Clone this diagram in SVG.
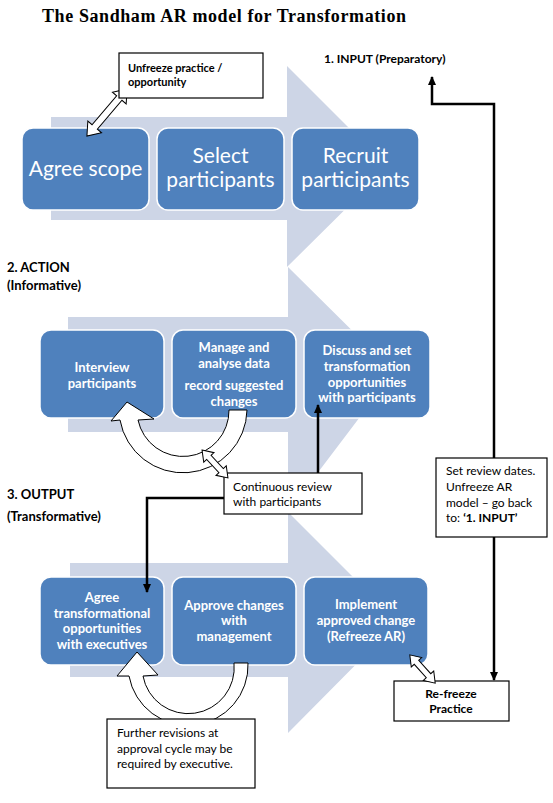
<svg xmlns="http://www.w3.org/2000/svg" width="553" height="803" viewBox="0 0 553 803">
<defs>
<style>
.bg{fill:#ffffff}
.flow{fill:#cdd5e6}
.box{fill:#4f81bd;stroke:#ffffff;stroke-width:1.5}
.t1{font-family:Lato,"Open Sans",sans-serif;font-size:21px;fill:#ffffff;text-anchor:middle}
.t2{font-family:Lato,"Open Sans",sans-serif;font-size:13px;font-weight:bold;fill:#ffffff;text-anchor:middle}
.call{fill:#ffffff;stroke:#000000;stroke-width:1.2}
.ct{font-family:Lato,"Open Sans",sans-serif;font-size:12px;fill:#000000}
.cb{font-family:Lato,"Open Sans",sans-serif;font-size:11px;font-weight:bold;fill:#000000}
.lab{font-family:Lato,"Open Sans",sans-serif;font-size:13px;font-weight:bold;fill:#000000}
.title{font-family:"Liberation Serif","Times New Roman",serif;font-size:18px;font-weight:bold;fill:#000000}
.blk{fill:#ffffff;stroke:#000000;stroke-width:1}
.conn{fill:none;stroke:#000000;stroke-width:2.5}
</style>
<marker id="ah" viewBox="0 0 10 10" refX="9" refY="5" markerWidth="9" markerHeight="9" markerUnits="userSpaceOnUse" orient="auto">
<path d="M0,0.5 L10,5 L0,9.5 z" fill="#000000"/>
</marker>
</defs>
<rect class="bg" x="0" y="0" width="553" height="803"/>
<text class="title" x="42" y="22" textLength="364" lengthAdjust="spacing">The Sandham AR model for Transformation</text>

<g id="flow-arrows">
<polygon class="flow" points="51,117 287,117 287,66 388,167 287,267 287,220 51,220"/>
<polygon class="flow" points="68,317 288,317 288,267 394,372 288,512 288,432 68,432"/>
<polygon class="flow" points="70,563 288,563 288,512 398,622 288,733 288,677 70,677"/>
</g>

<g id="label-input"><text class="lab" x="324" y="63" style="font-size:12px">1. INPUT (Preparatory)</text></g>
<g id="label-action"><text class="lab" x="7" y="272">2. ACTION</text><text class="lab" x="7" y="290">(Informative)</text></g>
<g id="label-output"><text class="lab" x="7" y="499">3. OUTPUT</text><text class="lab" x="7" y="521">(Transformative)</text></g>

<g id="n-agree-scope"><rect class="box" x="22" y="128" width="127" height="82" rx="11"/><text class="t1" x="85.5" y="176">Agree scope</text></g>
<g id="n-select"><rect class="box" x="157" y="128" width="127" height="82" rx="11"/><text class="t1" x="220.5" y="163">Select</text><text class="t1" x="220.5" y="187">participants</text></g>
<g id="n-recruit"><rect class="box" x="292" y="128" width="127" height="82" rx="11"/><text class="t1" x="355.5" y="163">Recruit</text><text class="t1" x="355.5" y="187">participants</text></g>

<g id="n-interview"><rect class="box" x="40" y="330" width="124" height="88" rx="11"/><text class="t2" x="102" y="372">Interview</text><text class="t2" x="102" y="388">participants</text></g>
<g id="n-manage"><rect class="box" x="172" y="330" width="124" height="88" rx="11"/><text class="t2" x="234" y="352">Manage and</text><text class="t2" x="234" y="368">analyse data</text><text class="t2" x="234" y="390">record suggested</text><text class="t2" x="234" y="406">changes</text></g>
<g id="n-discuss"><rect class="box" x="304" y="330" width="126" height="88" rx="11"/><text class="t2" x="367" y="355">Discuss and set</text><text class="t2" x="367" y="371">transformation</text><text class="t2" x="367" y="387">opportunities</text><text class="t2" x="367" y="402">with participants</text></g>

<g id="n-agree-trans"><rect class="box" x="40" y="577" width="124" height="88" rx="11"/><text class="t2" x="102" y="602">Agree</text><text class="t2" x="102" y="618">transformational</text><text class="t2" x="102" y="633">opportunities</text><text class="t2" x="102" y="649">with executives</text></g>
<g id="n-approve"><rect class="box" x="172" y="577" width="124" height="88" rx="11"/><text class="t2" x="234" y="610">Approve changes</text><text class="t2" x="234" y="625">with</text><text class="t2" x="234" y="641">management</text></g>
<g id="n-implement"><rect class="box" x="304" y="577" width="124" height="88" rx="11"/><text class="t2" x="366" y="609">Implement</text><text class="t2" x="366" y="625">approved change</text><text class="t2" x="366" y="641">(Refreeze AR)</text></g>

<g id="connectors">
<path class="blk" d="M-31,0 L-19,-9 L-19,-3.5 L19,-3.5 L19,-9 L31,0 L19,9 L19,3.5 L-19,3.5 L-19,9 Z" transform="translate(107,112.5) rotate(-49.6)"/>
<path class="blk" d="M229,410 L247,410 A64,64 0 0 1 120,420 L111,421 L127,402 L154,419 L138,420 A46,46 0 0 0 229,410 Z"/>
<path class="blk" d="M234,663 L248,663 A60,60 0 0 1 129,676 L117,676 L137,652 L158,675 L143,676 A46,46 0 0 0 234,663 Z"/>
<path class="conn" d="M494,458 L494,104 L432,104 L432,77" marker-end="url(#ah)"/>
<path class="conn" d="M494,537 L494,680" marker-end="url(#ah)"/>
<path class="conn" d="M318,473 L318,405" marker-end="url(#ah)"/>
<path class="conn" d="M224,498 L147,498 L147,592" marker-end="url(#ah)"/>
</g>

<g id="n-unfreeze"><rect class="call" x="119" y="53" width="144" height="45"/><text class="cb" x="128" y="72">Unfreeze practice /</text><text class="cb" x="128" y="86">opportunity</text></g>
<g id="n-continuous"><rect class="call" x="224" y="473" width="138" height="41"/><text class="ct" x="233" y="491">Continuous review</text><text class="ct" x="233" y="506">with participants</text></g>
<g id="n-setreview"><rect class="call" x="436" y="458" width="111" height="79"/><text class="ct" x="446" y="475">Set review dates.</text><text class="ct" x="446" y="491">Unfreeze AR</text><text class="ct" x="446" y="507">model – go back</text><text class="ct" x="446" y="522">to: <tspan font-weight="bold">‘1. INPUT’</tspan></text></g>
<g id="n-refreeze"><rect class="call" x="394" y="681" width="115" height="40"/><text class="ct" x="451" y="698" text-anchor="middle" font-weight="bold">Re-freeze</text><text class="ct" x="451" y="713" text-anchor="middle" font-weight="bold">Practice</text></g>
<g id="n-further"><rect class="call" x="107" y="719" width="148" height="69"/><text class="ct" x="117" y="737">Further revisions at</text><text class="ct" x="117" y="753">approval cycle may be</text><text class="ct" x="117" y="768">required by executive.</text></g>

<g id="small-double-arrows">
<path class="blk" d="M-19,0 L-9,-7 L-9,-3 L9,-3 L9,-7 L19,0 L9,7 L9,3 L-9,3 L-9,7 Z" transform="translate(215,464) rotate(47)"/>
<path class="blk" d="M-19,0 L-9,-7 L-9,-3 L9,-3 L9,-7 L19,0 L9,7 L9,3 L-9,3 L-9,7 Z" transform="translate(422.5,669) rotate(48)"/>
</g>
</svg>
